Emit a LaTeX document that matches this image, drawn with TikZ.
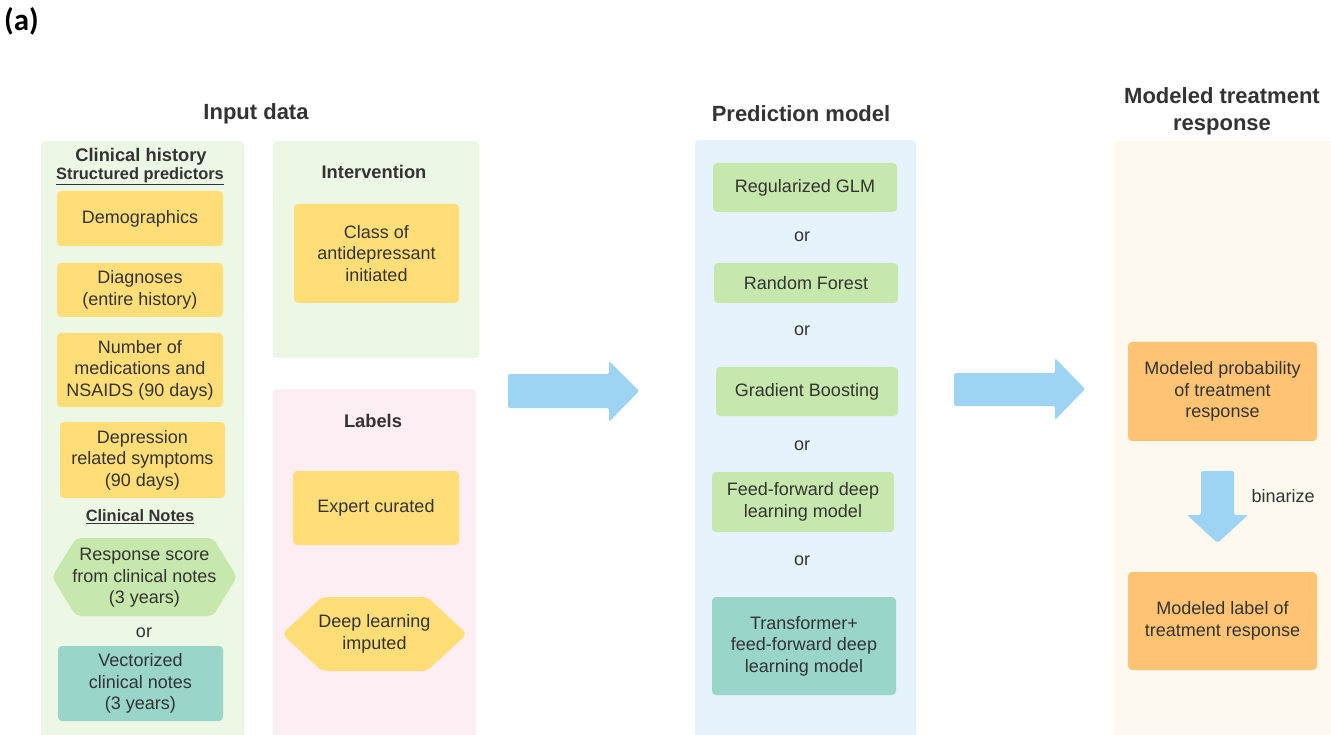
\documentclass[tikz,border=0pt]{standalone}
\usepackage{fontspec}
\setmainfont{Liberation Sans}
\newfontfamily\tagfont{Carlito}
\definecolor{ink}{HTML}{333333}
\definecolor{pgreen}{HTML}{EDF7E6}
\definecolor{ppink}{HTML}{FCEEF3}
\definecolor{pblue}{HTML}{E6F3FC}
\definecolor{pcream}{HTML}{FEF9EE}
\definecolor{byellow}{HTML}{FFDD77}
\definecolor{bgreen}{HTML}{C7E8AC}
\definecolor{bteal}{HTML}{9AD5CA}
\definecolor{borange}{HTML}{FFC374}
\definecolor{barrow}{HTML}{9DD3F3}
\begin{document}
\begin{tikzpicture}[x=1pt,y=-1pt,
  panel/.style={rounded corners=4pt, inner sep=0pt, outer sep=0pt},
  body/.style={font=\fontsize{18}{21.6}\selectfont, text=ink, align=center},
  box/.style={body, rounded corners=4pt, inner sep=0pt},
  yb/.style={box, fill=byellow},
  gb/.style={box, fill=bgreen},
  tb/.style={box, fill=bteal},
  ob/.style={box, fill=borange},
  head/.style={font=\fontsize{22}{26.5}\selectfont\bfseries, text=ink, align=center},
  subhead/.style={font=\fontsize{18.3}{22}\selectfont\bfseries, text=ink, align=center},
  blockarrow/.style={fill=barrow, rounded corners=2pt},
]
\useasboundingbox (0,0) rectangle (1331,735);

% figure tag
\node[font=\tagfont\fontsize{31}{34}\selectfont\bfseries, anchor=west, inner sep=0pt] (tag) at (4,21) {(a)};

% column headings
\node[head] (hin) at (256,114) {Input data};
\node[head] (hpred) at (801,114) {Prediction model};
\node[head] (hresp) at (1222,111.5) {Modeled treatment\\response};

% background panels
\node[panel, fill=pgreen, minimum width=203, minimum height=604] (pclin) at (142.5,443) {};
\node[panel, fill=pgreen, minimum width=206, minimum height=217] (pint) at (376,249.5) {};
\node[panel, fill=ppink, minimum width=203, minimum height=356] (plab) at (374.5,567) {};
\node[panel, fill=pblue, minimum width=221, minimum height=605] (ppred) at (805.5,442.5) {};
\node[panel, fill=pcream, minimum width=230, minimum height=604] (presp) at (1229,443) {};

% clinical history
\node[subhead] (tclin) at (141,157) {Clinical history};
\node[font=\fontsize{16.4}{19}\selectfont\bfseries, text=ink] (tstruct) at (140,176) {\underline{Structured predictors}};
\node[yb, minimum width=166, minimum height=55] (demo) at (140,218.5) {Demographics};
\node[yb, minimum width=166, minimum height=54] (diag) at (140,290) {Diagnoses\\(entire history)};
\node[yb, minimum width=166, minimum height=74] (meds) at (140,370) {Number of\\medications and\\NSAIDS (90 days)};
\node[yb, minimum width=165, minimum height=76] (depr) at (142.5,460) {Depression\\related symptoms\\(90 days)};
\node[font=\fontsize{16.4}{19}\selectfont\bfseries, text=ink] (tnotes) at (140,517) {\underline{Clinical Notes}};
\fill[bgreen, rounded corners=5pt] (52,577) -- (76,538) -- (213,538) -- (237,577) -- (213,616) -- (76,616) -- cycle;
\node[body] (resp) at (144.5,578) {Response score\\from clinical notes\\(3 years)};
\node[body] (or0) at (144,633) {or};
\node[tb, minimum width=165, minimum height=75] (vect) at (140.5,683.5) {Vectorized\\clinical notes\\(3 years)};

% intervention
\node[subhead] (tint) at (374,172) {Intervention};
\node[yb, minimum width=165, minimum height=99] (cls) at (376.5,253.5) {Class of\\antidepressant\\initiated};

% labels
\node[subhead] (tlab) at (373,421) {Labels};
\node[yb, minimum width=166, minimum height=74] (expert) at (376,508) {Expert curated};
\fill[byellow, rounded corners=5pt] (282,634) -- (322,597) -- (427,597) -- (467,634) -- (427,671) -- (322,671) -- cycle;
\node[body] (imput) at (374.5,634) {Deep learning\\imputed};

% prediction model
\node[gb, minimum width=184, minimum height=49] (glm) at (805,187.5) {Regularized GLM};
\node[body] (or1) at (802,237) {or};
\node[gb, minimum width=184, minimum height=40] (rf) at (806,283) {Random Forest};
\node[body] (or2) at (802,331) {or};
\node[gb, minimum width=182, minimum height=49] (gbm) at (807,391.5) {Gradient Boosting};
\node[body] (or3) at (802,446) {or};
\node[gb, minimum width=182, minimum height=60] (ffn) at (803,502) {Feed-forward deep\\learning model};
\node[body] (or4) at (802,561) {or};
\node[tb, minimum width=184, minimum height=98] (trf) at (804,646) {Transformer+\\feed-forward deep\\learning model};

% modeled response
\node[ob, minimum width=189, minimum height=99] (prob) at (1222.5,391.5) {Modeled probability\\of treatment\\response};
\node[ob, minimum width=189, minimum height=98] (lbl) at (1222.5,621) {Modeled label of\\treatment response};
\node[body, anchor=west] (bin) at (1248,496) {binarize};

% block arrows between stages
\fill[blockarrow] (508,374) -- (609,374) -- (609,361) -- (639,391) -- (609,422) -- (609,408) -- (508,408) -- cycle;
\fill[blockarrow] (954,373) -- (1055,373) -- (1055,358) -- (1085,389) -- (1055,420) -- (1055,406) -- (954,406) -- cycle;
\fill[blockarrow] (1201,471) -- (1234,471) -- (1234,515) -- (1248,515) -- (1217.5,543) -- (1187,515) -- (1201,515) -- cycle;
\end{tikzpicture}
\end{document}
